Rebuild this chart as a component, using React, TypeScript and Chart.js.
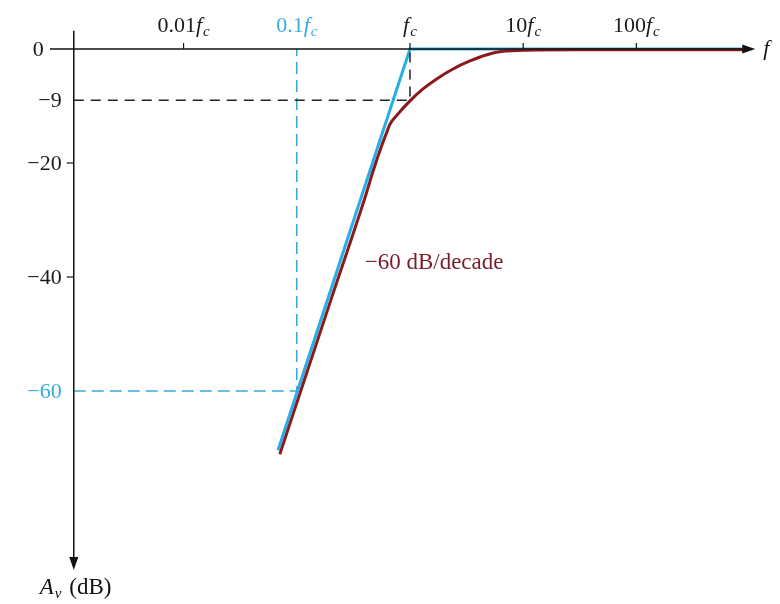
import React, { useEffect, useRef } from "react";
import { Chart, registerables } from "chart.js";
Chart.register(...registerables);

// x values are decades relative to fc: log10(f / fc)
const decades = [-2, -1, 0, 1, 2];
const decadeNumbers = ["0.01", "0.1", "", "10", "100"];
const decadeColors = ["#1a1a1a", "#35ade0", "#1a1a1a", "#1a1a1a", "#1a1a1a"];

const yTickValues = [0, -9, -20, -40, -60];
const yTickLabels = ["0", "\u22129", "\u221220", "\u221240", "\u221260"];
const yTickColors = ["#1a1a1a", "#1a1a1a", "#1a1a1a", "#1a1a1a", "#35ade0"];
const yTickMarks = [-20, -40];

// Bode asymptote (blue)
const asymptoteX = [-1.166, 0, 2.95];
const asymptoteY = [-70.4, 0, 0];

// Actual response (red)
const responseX = [-1.15, -0.965, -0.7, -0.398, -0.327, -0.247, -0.203, -0.177, -0.115, 0, 0.115, 0.239, 0.38, 0.53, 0.68, 0.82, 1.03, 1.5, 2.95];
const responseY = [-71.1, -60, -44.1, -26.1, -21.5, -16.8, -14.5, -13.2, -11.6, -9.1, -7.0, -5.2, -3.5, -2.1, -1.0, -0.4, -0.2, -0.15, -0.15];

// guide lines
const yAxisAt = -2.97;
const cornerDb = -9;
const decadeDb = -60;
const xAxisRange = [-3.18, 3.05];
const yAxisRange = [3.2, -91.4];

const slopeLabel = "\u221260 dB/decade";
const slopeLabelAt = [-0.4, -38.6];

const SERIF = '"Liberation Serif", "DejaVu Serif", serif';

export default function App() {
  const ref = useRef<HTMLCanvasElement | null>(null);
  useEffect(() => {
    document.body.style.margin = "0";
    const canvas = ref.current!;
    const axesPlugin = {
      id: "bodeAxes",
      afterDatasetsDraw(chart: any) {
        const ctx = chart.ctx as CanvasRenderingContext2D;
        const xs = chart.scales.x;
        const ys = chart.scales.y;
        const X = (v: number) => xs.getPixelForValue(v);
        const Y = (v: number) => ys.getPixelForValue(v);
        ctx.save();
        ctx.strokeStyle = "#111";
        ctx.fillStyle = "#111";
        ctx.lineWidth = 1.5;
        // x axis
        const y0 = Y(0);
        const xEnd = X(xAxisRange[1]);
        ctx.beginPath();
        ctx.moveTo(X(xAxisRange[0]), y0);
        ctx.lineTo(xEnd - 8, y0);
        ctx.stroke();
        ctx.beginPath();
        ctx.moveTo(xEnd, y0);
        ctx.lineTo(xEnd - 13, y0 - 4.5);
        ctx.lineTo(xEnd - 13, y0 + 4.5);
        ctx.closePath();
        ctx.fill();
        // y axis
        const xa = X(yAxisAt);
        const yEnd = Y(yAxisRange[1]);
        ctx.beginPath();
        ctx.moveTo(xa, Y(yAxisRange[0]));
        ctx.lineTo(xa, yEnd - 8);
        ctx.stroke();
        ctx.beginPath();
        ctx.moveTo(xa, yEnd);
        ctx.lineTo(xa - 4.5, yEnd - 13);
        ctx.lineTo(xa + 4.5, yEnd - 13);
        ctx.closePath();
        ctx.fill();
        // x ticks
        ctx.lineWidth = 1.2;
        decades.forEach((d) => {
          if (d === -1) return;
          ctx.beginPath();
          ctx.moveTo(X(d), y0);
          ctx.lineTo(X(d), y0 - 6);
          ctx.stroke();
        });
        // y ticks
        yTickMarks.forEach((v) => {
          ctx.beginPath();
          ctx.moveTo(xa - 7, Y(v));
          ctx.lineTo(xa, Y(v));
          ctx.stroke();
        });
        // x labels
        ctx.textBaseline = "alphabetic";
        decades.forEach((d, i) => {
          const num = decadeNumbers[i];
          ctx.font = `22px ${SERIF}`;
          const wNum = num ? ctx.measureText(num).width : 0;
          ctx.font = `italic 22px ${SERIF}`;
          const wF = ctx.measureText("f").width + 1;
          ctx.font = `italic 15px ${SERIF}`;
          const wC = ctx.measureText("c").width;
          let x = X(d) - (wNum + wF + wC) / 2;
          const by = y0 - 17;
          ctx.fillStyle = decadeColors[i];
          ctx.textAlign = "left";
          if (num) {
            ctx.font = `22px ${SERIF}`;
            ctx.fillText(num, x, by);
            x += wNum;
          }
          ctx.font = `italic 22px ${SERIF}`;
          ctx.fillText("f", x, by);
          x += wF;
          ctx.font = `italic 15px ${SERIF}`;
          ctx.fillText("c", x, by + 4);
        });
        // f at end of axis
        ctx.fillStyle = "#111";
        ctx.font = `italic 22px ${SERIF}`;
        ctx.textAlign = "left";
        ctx.fillText("f", xEnd + 8, y0 + 6);
        // y labels
        ctx.font = `22px ${SERIF}`;
        ctx.textBaseline = "middle";
        ctx.textAlign = "right";
        yTickValues.forEach((v, i) => {
          ctx.fillStyle = yTickColors[i];
          const rx = v === 0 ? xa - 30 : xa - 12;
          ctx.fillText(yTickLabels[i], rx, Y(v) + 1);
        });
        // slope label
        ctx.fillStyle = "#7a1d2a";
        ctx.textAlign = "left";
        ctx.textBaseline = "alphabetic";
        ctx.font = `23px ${SERIF}`;
        ctx.fillText(slopeLabel, X(slopeLabelAt[0]), Y(slopeLabelAt[1]));
        // Av (dB)
        ctx.fillStyle = "#111";
        let ax = xa - 34;
        const ab = yEnd + 24;
        ctx.font = `italic 23px ${SERIF}`;
        ctx.fillText("A", ax, ab);
        ax += ctx.measureText("A").width + 1;
        ctx.font = `italic 15px ${SERIF}`;
        ctx.fillText("v", ax, ab + 4);
        ax += ctx.measureText("v").width + 2;
        ctx.font = `23px ${SERIF}`;
        ctx.fillText(" (dB)", ax, ab);
        ctx.restore();
      },
    };

    const pts = (xs: number[], ys: number[]) => xs.map((x, i) => ({ x, y: ys[i] }));
    const chart = new Chart(canvas, {
      type: "scatter",
      data: {
        datasets: [
          {
            data: [{ x: yAxisAt, y: cornerDb }, { x: 0, y: cornerDb }, { x: 0, y: 0 }],
            showLine: true,
            borderColor: "#222",
            borderWidth: 1.5,
            borderDash: [10, 7],
            pointRadius: 0,
          },
          {
            data: [{ x: yAxisAt, y: decadeDb }, { x: -1, y: decadeDb }, { x: -1, y: 0 }],
            showLine: true,
            borderColor: "#3aa6d8",
            borderWidth: 1.5,
            borderDash: [12, 6],
            pointRadius: 0,
          },
          {
            data: pts(responseX, responseY),
            showLine: true,
            borderColor: "#8a1a1c",
            borderWidth: 3,
            pointRadius: 0,
            cubicInterpolationMode: "monotone",
          },
          {
            data: pts(asymptoteX, asymptoteY),
            showLine: true,
            borderColor: "#27aee6",
            borderWidth: 3,
            pointRadius: 0,
          },
        ],
      },
      options: {
        responsive: false,
        animation: false,
        devicePixelRatio: 1,
        layout: { padding: { left: 50, right: 20, top: 20, bottom: 20 } },
        scales: {
          x: { type: "linear", min: -3.18, max: 3.092, display: false },
          y: { type: "linear", min: -93.86, max: 5.088, display: false },
        },
        plugins: { legend: { display: false }, tooltip: { enabled: false } },
      },
      plugins: [axesPlugin],
    } as any);
    return () => chart.destroy();
  }, []);
  return <canvas ref={ref} width={780} height={604} style={{ display: "block" }} />;
}
